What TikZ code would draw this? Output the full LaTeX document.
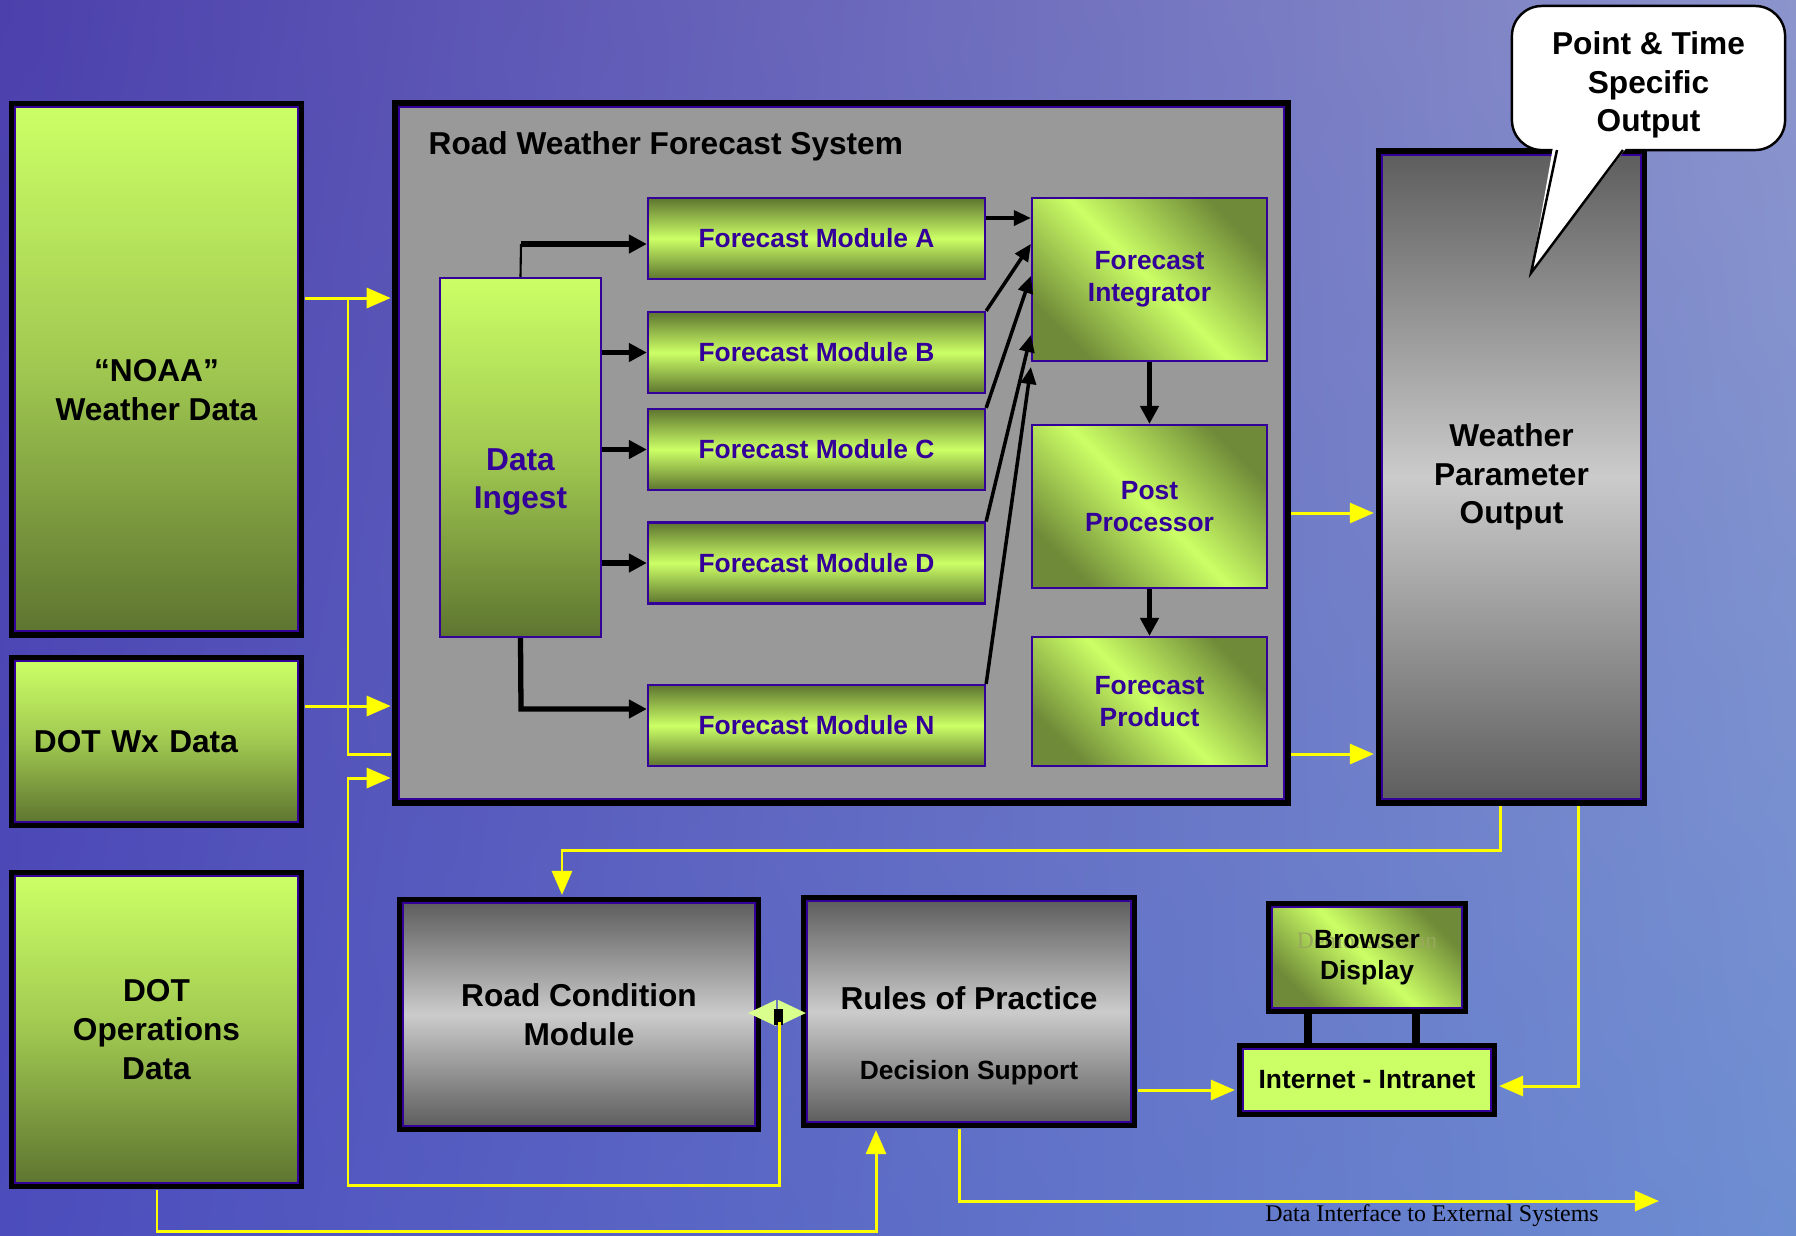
\documentclass[tikz,border=0pt]{standalone}
\usepackage{fontspec}
\setmainfont{Liberation Sans}
\newfontfamily\notefont{Liberation Serif}
\usepackage{xcolor}
\usepackage{tikz}
\usetikzlibrary{calc,arrows.meta,shadings}
\definecolor{lime}{HTML}{CCFF66}
\definecolor{olive}{HTML}{5E7530}
\definecolor{ink}{HTML}{330099}
\definecolor{wirey}{HTML}{FFFF00}
\definecolor{panel}{HTML}{999999}
\definecolor{steel}{HTML}{5E5E5E}
\definecolor{silver}{HTML}{CBCBCB}
\definecolor{ghost}{HTML}{98A85C}
\definecolor{bgul}{HTML}{4C40AC}
\definecolor{bgur}{HTML}{8C94CC}
\definecolor{bgll}{HTML}{4C4CBC}
\definecolor{bglr}{HTML}{6E8ED2}
\tikzset{
  framed/.style={preaction={draw=black, line width=3.6pt}, draw=ink, line width=0.6pt},
  big/.style={font=\bfseries\fontsize{9}{11}\selectfont, align=center, inner sep=0pt},
  small/.style={font=\bfseries\fontsize{7.5}{9}\selectfont, align=center, inner sep=0pt},
  srcbox/.style={framed, big, top color=lime, bottom color=olive, middle color=lime!60!olive},
  panelbox/.style={framed, fill=panel},
  ingestbox/.style={draw=ink, line width=0.6pt, top color=lime, bottom color=olive, middle color=lime!60!olive},
  modbox/.style={draw=ink, line width=0.6pt, small, text=ink, minimum width=3.37cm, minimum height=0.81cm,
    top color=olive, bottom color=olive, middle color=lime},
  diag/.style={top color=olive!85!lime, bottom color=olive!85!lime, middle color=lime, shading angle=-45},
  stagebox/.style={draw=ink, line width=0.6pt, small, text=ink, minimum width=2.35cm, diag},
  graybox/.style={framed, big, top color=steel, bottom color=steel, middle color=silver},
  balloon/.style={draw=black, line width=0.7pt, fill=white, rounded corners=0.3cm},
  browserbox/.style={framed, small, diag, minimum width=1.90cm, minimum height=1.01cm,
    path picture={\node[ghost] at ([yshift=0.17cm]path picture bounding box.center) {Demonstration};}},
  ghost/.style={text=ghost, font=\notefont\fontsize{6.7}{8}\selectfont},
  lanbox/.style={framed, small, fill=lime, minimum width=2.48cm, minimum height=0.62cm},
  note/.style={font=\notefont\fontsize{6.8}{8}\selectfont},
  flow/.style={draw=black, line width=1pt, -{Triangle[length=0.17cm,width=0.15cm]}},
  flowbold/.style={draw=black, line width=1.5pt, -{Triangle[length=0.18cm,width=0.18cm]}},
  link/.style={draw=black, line width=2.3pt},
  wire/.style={draw=wirey, line width=0.85pt, shorten >=0.07cm, -{Triangle[length=0.24cm,width=0.2cm]}},
  wireline/.style={draw=wirey, line width=0.85pt, shorten >=0.07cm},
  fromframe/.style={shorten <=0.06cm},
  swapper/.style={draw=lime!75!white, line width=0.5pt,
    {Triangle[length=0.28cm,width=0.26cm]}-{Triangle[length=0.28cm,width=0.26cm]}}
}

\begin{document}
\begin{tikzpicture}[x=0.01cm,y=-0.01cm]
  \useasboundingbox (0,0) rectangle (1796,1235);
  \shade[upper left=bgul, upper right=bgur, lower left=bgll, lower right=bglr] (0,0) rectangle (1796,1235);

  \node[srcbox, minimum width=2.83cm, minimum height=5.24cm] (noaa) at (156.5,369) {};
  \node[big] (noaatxt) at (156.5,390) {“NOAA”\\Weather Data};
  \node[srcbox, minimum width=2.83cm, minimum height=1.61cm, text width=2.45cm, align=left] (dotwx) at (156.5,741.5) {DOT Wx Data};
  \node[srcbox, minimum width=2.83cm, minimum height=3.07cm] (dotops) at (156.5,1029.5) {DOT\\Operations\\Data};

  \node[panelbox, minimum width=8.85cm, minimum height=6.92cm] (rwfs) at (841.5,453) {};
  \node[big, anchor=west] (rwfstitle) at (428,146) {Road Weather Forecast System};

  \node[ingestbox, minimum width=1.61cm, minimum height=3.59cm] (ingest) at (520.5,457.5) {};
  \node[big, text=ink] (ingesttxt) at (520.5,482) {Data\\Ingest};

  \node[modbox] (moda) at (816.5,238.5) {Forecast Module A};
  \node[modbox] (modb) at (816.5,352.5) {Forecast Module B};
  \node[modbox] (modc) at (816.5,449.5) {Forecast Module C};
  \node[modbox] (modd) at (816.5,563) {Forecast Module D};
  \node[modbox] (modn) at (816.5,725.5) {Forecast Module N};

  \node[stagebox, minimum height=1.63cm] (integ) at (1149.5,279.5) {Forecast\\Integrator};
  \node[stagebox, minimum height=1.63cm] (post) at (1149.5,506.5) {Post\\Processor};
  \node[stagebox, minimum height=1.29cm] (product) at (1149.5,701.5) {Forecast\\Product};

  \node[graybox, minimum width=2.59cm, minimum height=6.44cm] (wpo) at (1511.5,477) {Weather\\Parameter\\Output};
  \node[balloon, minimum width=2.73cm, minimum height=1.44cm] (callout) at (1648.5,78) {};
  \fill[white] (1531,273) -- (1553,147) -- (1627,147) -- cycle;
  \draw[line width=0.7pt] (1557,150) -- (1531,273) -- (1623,150);
  \node[big] (callouttxt) at (1648.5,85) {Point \& Time\\Specific\\Output};

  \node[graybox, minimum width=3.52cm, minimum height=2.23cm] (roadcond) at (579,1014.5) {Road Condition\\Module};
  \node[graybox, minimum width=3.24cm, minimum height=2.21cm] (rules) at (969,1011.5) {};
  \node[big] (rulestxt) at (969,998) {Rules of Practice};
  \node[small] (decision) at (969,1073) {Decision Support};

  \node[browserbox] (browser) at (1367,957.5) {Browser\\Display};
  \node[lanbox] (internet) at (1367,1080) {Internet - Intranet};
  \coordinate (jx) at (1308,0);
  \coordinate (jy) at (1416,0);
  \draw[link] (browser.south -| jx) -- (internet.north -| jx);
  \draw[link] (browser.south -| jy) -- (internet.north -| jy);

  \coordinate (ja) at (521,244);
  \coordinate (jz) at (521,709);
  \coordinate (jf) at (1000,218);
  \draw[line width=0.6pt] (ingest.north) -- (ja);
  \draw[flowbold] (ja) -- (moda.west |- ja);
  \draw[flowbold] (ingest.east |- modb) -- (modb.west);
  \draw[flowbold] (ingest.east |- modc) -- (modc.west);
  \draw[flowbold] (ingest.east |- modd) -- (modd.west);
  \draw[flowbold] (ingest.south) -- (jz) -- (modn.west |- jz);
  \draw[flow] (moda.east |- jf) -- (integ.west |- jf);
  \draw[flow] (modb.north east) -- ([yshift=-0.47cm]integ.north west);
  \draw[flow] (modc.north east) -- ([yshift=-0.79cm]integ.north west);
  \draw[flow] (modd.north east) -- ([yshift=-1.38cm]integ.north west);
  \draw[flow] (modn.north east) -- ([yshift=-1.70cm]integ.north west);
  \draw[flowbold] (integ.south) -- (post.north);
  \draw[flowbold] (post.south) -- (product.north);

  \coordinate (jn) at (348,298);
  \coordinate (jw) at (348,706);
  \coordinate (jm) at (348,754);
  \coordinate (jl) at (348,778);
  \coordinate (jb) at (348,1185);
  \coordinate (jd) at (779,1013);
  \coordinate (je) at (779,1022);
  \coordinate (jo) at (1330,513);
  \coordinate (jp) at (1500,850);
  \coordinate (jq) at (562,850);
  \coordinate (jr) at (1578,1086);
  \coordinate (js) at (1190,1090);
  \coordinate (jt) at (959,1201);
  \coordinate (extout) at (1659,1201);
  \coordinate (ju) at (157,1231);
  \coordinate (jv) at (876,1231);

  \draw[wire, fromframe] (noaa.east |- jn) -- (rwfs.west |- jn);
  \draw[wireline] (jn) |- (rwfs.west |- jm);
  \draw[wire, fromframe] (dotwx.east |- jw) -- (rwfs.west |- jw);
  \draw[wire, fromframe] (rwfs.east |- jo) -- (wpo.west |- jo);
  \draw[wire, fromframe] (rwfs.east |- jm) -- (wpo.west |- jm);
  \draw[wire, fromframe] (wpo.south -| jp) -- (jp) -- (jq) -- (roadcond.north -| jq);
  \draw[wire, fromframe] (wpo.south -| jr) |- (internet.east |- jr);
  \draw[wire, fromframe] (rules.east |- js) -- (internet.west |- js);
  \draw[wire, fromframe, shorten >=0pt] (rules.south -| jt) |- (extout);
  \draw[wire, fromframe] (dotops.south -| ju) -- (ju) -- (jv) -- (rules.south -| jv);
  \node[note, anchor=north] (extlabel) at (1432,1192) {Data Interface to External Systems};

  \draw[swapper] ([xshift=-0.08cm]roadcond.east |- jd) -- (rules.west |- jd);
  \fill[black] (774,1009) rectangle (783,1025);
  \draw[wire] (je) |- (jb) |- (rwfs.west |- jl);
\end{tikzpicture}
\end{document}
